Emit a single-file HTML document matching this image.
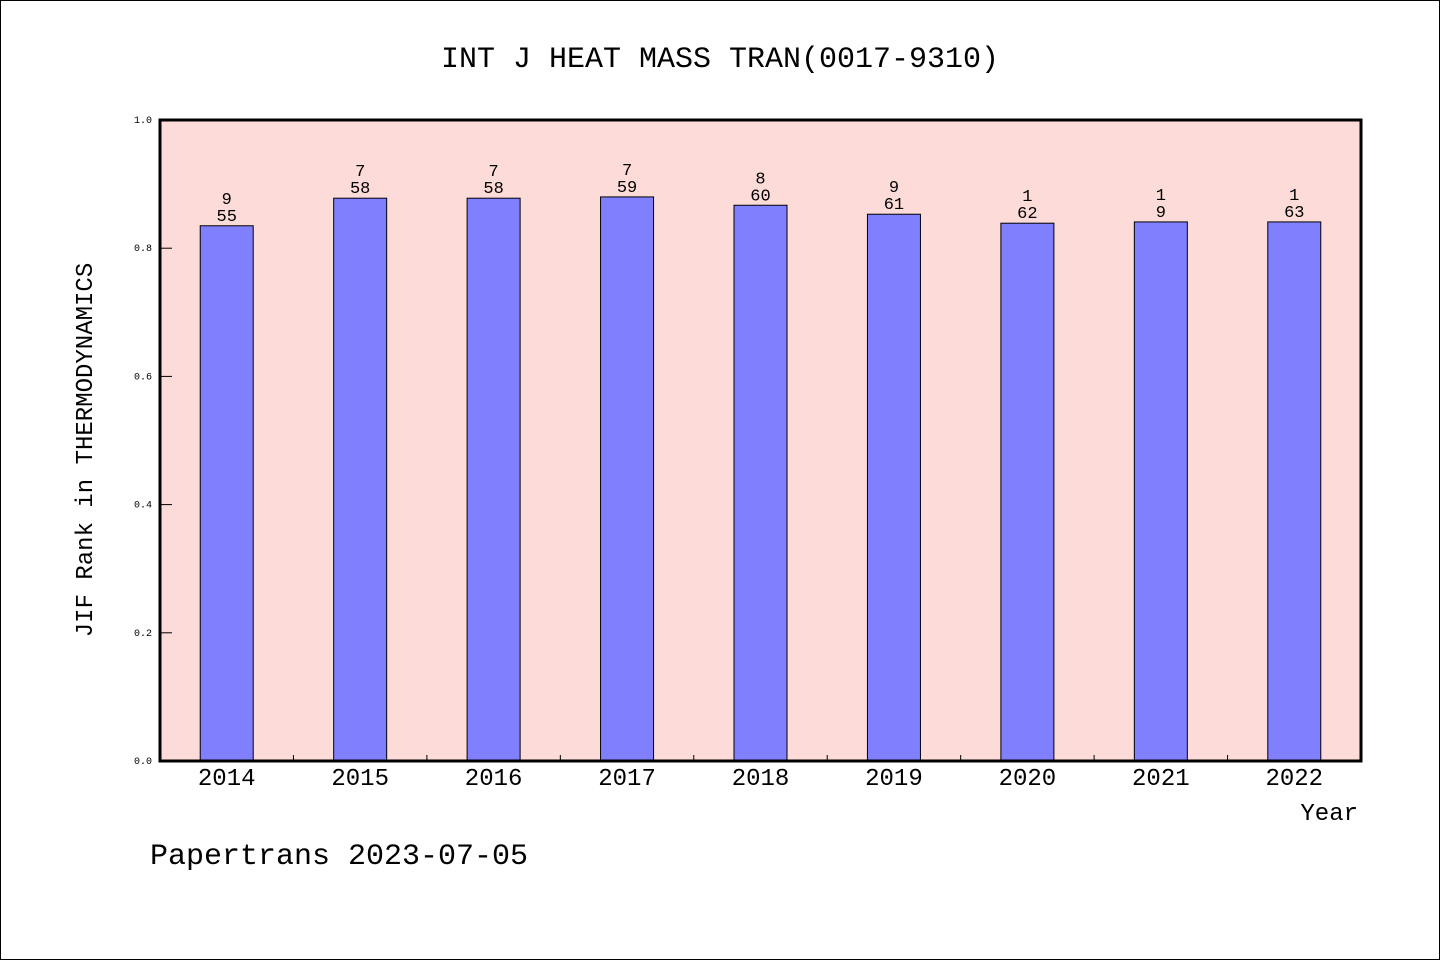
<!DOCTYPE html>
<html><head><meta charset="utf-8"><style>
html,body{margin:0;padding:0;background:#fff}
svg{display:block}
text{font-family:"Liberation Mono","DejaVu Sans Mono",monospace;fill:#000}
</style></head><body>
<svg id="chart" width="1440" height="960">
<rect x="0.5" y="0.5" width="1439" height="959" fill="#fff" stroke="#000"/>
<text x="720" y="67" font-size="30" text-anchor="middle">INT J HEAT MASS TRAN(0017-9310)</text>
<rect x="160" y="120" width="1201" height="641" fill="#fddbd8"/>
<g id="bars"></g>
<g id="ticks"></g>
<rect x="160" y="120" width="1201" height="641" fill="none" stroke="#000" stroke-width="3"/>
<text x="92" y="450" font-size="24" text-anchor="middle" transform="rotate(-90 92 450)">JIF Rank in THERMODYNAMICS</text>
<text x="1358" y="820" font-size="24" text-anchor="end">Year</text>
<text x="150" y="864" font-size="30">Papertrans 2023-07-05</text>
</svg>
<script>
const years=["2014","2015","2016","2017","2018","2019","2020","2021","2022"];
const values=[0.835,0.878,0.878,0.880,0.867,0.853,0.839,0.841,0.841];
const labelTop=["9","7","7","7","8","9","1","1","1"];
const labelBottom=["55","58","58","59","60","61","62","9","63"];
const yTicks=[0,0.2,0.4,0.6,0.8,1.0];
const X0=160,X1=1361,Y0=761,Y1=120;
const slot=(X1-X0)/years.length;
const xc=i=>X0+slot*(i+0.5);
const y=v=>Y0-(Y0-Y1)*v;
const NS="http://www.w3.org/2000/svg";
const bars=document.getElementById('bars'),ticks=document.getElementById('ticks');
function mk(tag,attrs,parent){const e=document.createElementNS(NS,tag);for(const k in attrs)e.setAttribute(k,attrs[k]);parent.appendChild(e);return e;}
years.forEach((yr,i)=>{
  const bw=53;
  const r=mk('rect',{x:xc(i)-bw/2,y:y(values[i]),width:bw,height:Y0-y(values[i]),fill:'#8080ff',stroke:'#000','stroke-width':1},bars);
  
  
  const t1=mk('text',{x:xc(i),y:y(values[i])-22,'font-size':17,'text-anchor':'middle'},bars);
  t1.textContent=labelTop[i];
  
  
  const t2=mk('text',{x:xc(i),y:y(values[i])-5,'font-size':17,'text-anchor':'middle'},bars);
  t2.textContent=labelBottom[i];
  
  
  const xl=mk('text',{x:xc(i),y:785,'font-size':24,'text-anchor':'middle'},ticks);
  xl.textContent=yr;
  
  
  if(i>0){
    const tk=mk('line',{x1:X0+slot*i,x2:X0+slot*i,y1:Y0,y2:Y0-6,stroke:'#000','stroke-width':1},ticks);
    
    
  }
});
yTicks.forEach(v=>{
  const tk=mk('line',{x1:X0,x2:X0+12,y1:y(v),y2:y(v),stroke:'#000','stroke-width':1},ticks);
  
  
  const tl=mk('text',{x:152,y:y(v)+3,'font-size':10,'text-anchor':'end','font-family':'Liberation Sans, sans-serif'},ticks);
  tl.textContent=v.toFixed(1);
  
  
});
</script>
</body></html>
